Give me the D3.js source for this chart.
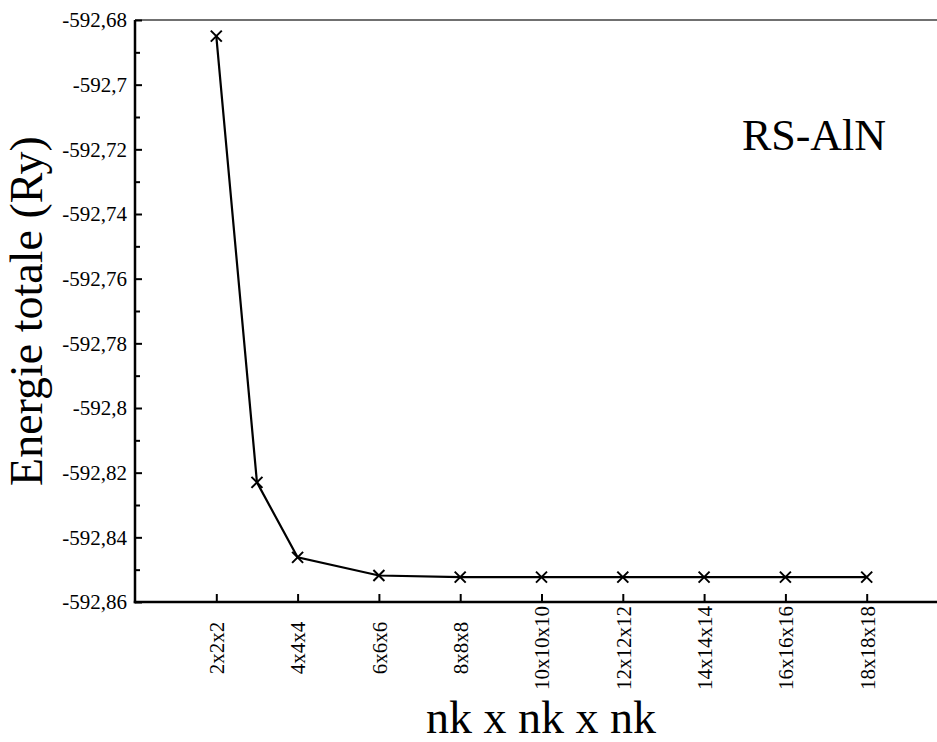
<!DOCTYPE html>
<html>
<head>
<meta charset="utf-8">
<script src="https://cdn.jsdelivr.net/npm/d3@7"></script>
<style>
  html, body { margin: 0; padding: 0; background: #fff; }
  svg { display: block; }
</style>
</head>
<body>
<div id="chart"></div>
<script>
// k-point mesh sizes (nk) and total energies in Ry
const meshSizes = [2, 3, 4, 6, 8, 10, 12, 14, 16, 18];
const energies = [-592.685, -592.823, -592.8462, -592.8518, -592.8523, -592.8523, -592.8523, -592.8523, -592.8523, -592.8523];
const xTickValues = [2, 4, 6, 8, 10, 12, 14, 16, 18];
const yMajorTicks = [-592.68, -592.70, -592.72, -592.74, -592.76, -592.78, -592.80, -592.82, -592.84, -592.86];
const yMinorTicks = [-592.69, -592.71, -592.73, -592.75, -592.77, -592.79, -592.81, -592.83, -592.85];

const FONT = '"Liberation Serif"';
const W = 937, H = 742;
const plotLeft = 135, plotTop = 20, plotBottom = 602;

const svg = d3.select("#chart").append("svg")
  .attr("width", W).attr("height", H);

const x = d3.scaleLinear().domain([0, 20]).range([plotLeft, plotLeft + 813]);
const y = d3.scaleLinear().domain([-592.86, -592.68]).range([plotBottom, plotTop]);

const fmtY = d => {
  const s = d3.format(".2f")(d).replace(/0+$/, "").replace(/\.$/, "");
  return s.replace(".", ",").replace("\u2212", "-");
};

// top frame line
svg.append("line")
  .attr("x1", plotLeft).attr("x2", W + 10)
  .attr("y1", plotTop).attr("y2", plotTop)
  .attr("stroke", "#707070").attr("stroke-width", 2);

// y axis: major ticks with labels, minor ticks without
const yAxis = svg.append("g")
  .attr("transform", `translate(${plotLeft},0)`)
  .call(d3.axisLeft(y).tickValues(yMajorTicks).tickSize(-7).tickPadding(8).tickFormat(fmtY));
yAxis.attr("font-family", null).attr("font-size", null);
yAxis.selectAll(".tick line").attr("stroke", "#000").attr("stroke-width", 2);
yAxis.selectAll(".tick text")
  .style("font-family", FONT).style("font-size", "21px").attr("fill", "#000");
yAxis.select(".domain").remove();

svg.append("g")
  .attr("transform", `translate(${plotLeft},0)`)
  .call(d3.axisLeft(y).tickValues(yMinorTicks).tickSize(-5).tickFormat(""))
  .call(g => g.select(".domain").remove())
  .selectAll(".tick line").attr("stroke", "#000").attr("stroke-width", 2);

// x axis with rotated mesh labels, centred below each tick
const xAxis = svg.append("g")
  .attr("transform", `translate(0,${plotBottom})`)
  .call(d3.axisBottom(x).tickValues(xTickValues).tickSize(-8).tickFormat(d => `${d}x${d}x${d}`));
xAxis.attr("font-family", null).attr("font-size", null);
xAxis.select(".domain").remove();
xAxis.selectAll(".tick line").attr("stroke", "#000").attr("stroke-width", 2);
xAxis.selectAll(".tick text")
  .style("font-family", FONT).style("font-size", "21px").attr("fill", "#000")
  .attr("text-anchor", "middle")
  .attr("transform", "rotate(-90)")
  .attr("x", -46).attr("y", 0).attr("dy", "0.35em");

// axis lines
svg.append("line")
  .attr("x1", plotLeft).attr("x2", plotLeft)
  .attr("y1", plotTop).attr("y2", plotBottom + 1.25)
  .attr("stroke", "#000").attr("stroke-width", 2.5);
svg.append("line")
  .attr("x1", plotLeft - 1.25).attr("x2", W + 10)
  .attr("y1", plotBottom).attr("y2", plotBottom)
  .attr("stroke", "#000").attr("stroke-width", 2.5);

// data line
const pts = meshSizes.map((m, i) => [m, energies[i]]);
svg.append("path")
  .datum(pts)
  .attr("fill", "none")
  .attr("stroke", "#000")
  .attr("stroke-width", 2.2)
  .attr("d", d3.line().x(d => x(d[0])).y(d => y(d[1])));

// cross markers
const s = 5.5;
svg.append("g").selectAll("path.mk")
  .data(pts).join("path")
  .attr("class", "mk")
  .attr("transform", d => `translate(${x(d[0])},${y(d[1])})`)
  .attr("d", `M${-s},${-s}L${s},${s}M${-s},${s}L${s},${-s}`)
  .attr("stroke", "#000").attr("stroke-width", 2).attr("fill", "none");

// axis titles
svg.append("text")
  .attr("transform", `translate(42,311) rotate(-90)`)
  .attr("text-anchor", "middle")
  .style("font-family", FONT).style("font-size", "46px")
  .text("Energie totale (Ry)");

svg.append("text")
  .attr("x", 541).attr("y", 733)
  .attr("text-anchor", "middle")
  .style("font-family", FONT).style("font-size", "46px")
  .text("nk x nk x nk");

svg.append("text")
  .attr("x", 814).attr("y", 150)
  .attr("text-anchor", "middle")
  .style("font-family", FONT).style("font-size", "44px")
  .text("RS-AlN");
</script>
</body>
</html>
